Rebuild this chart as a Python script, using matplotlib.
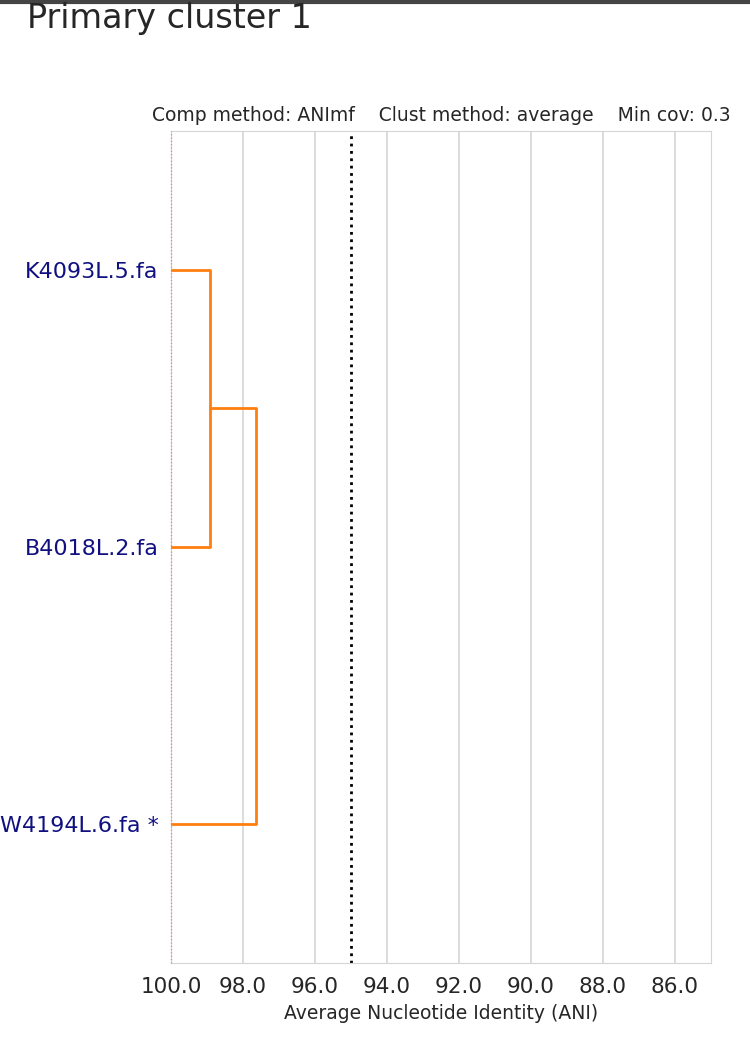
import matplotlib
matplotlib.use("Agg")
import matplotlib.pyplot as plt
import seaborn as sns
from matplotlib.lines import Line2D

# genomes, top to bottom, and where scipy would place them
genomes = ["K4093L.5.fa", "B4018L.2.fa", "W4194L.6.fa *"]
leaf_pos = [25, 15, 5]

# merges: (left y, left ani, right y, right ani, merge ani)
merges = [
    (25, 100.0, 15, 100.0, 98.92),
    (20, 98.92, 5, 100.0, 97.64),
]

ani_ticks = [100, 98, 96, 94, 92, 90, 88, 86]
threshold = 95.0
comp_method = "ANImf"
clust_method = "average"
min_cov = 0.3

sns.set_style("whitegrid")
plt.rcParams['font.family'] = ['DejaVu Sans']

fig = plt.figure(figsize=(7.5, 10.41), dpi=100)
ax = fig.add_axes([0.228, 0.075, 0.72, 0.799])

for y1, x1, y2, x2, xm in merges:
    ax.plot([x1, xm, xm, x2], [y1, y1, y2, y2], color="#ff7f0e", lw=2, zorder=3)

ax.axvline(threshold, color="black", ls=":", lw=2)
ax.axvline(100, color="#f08080", ls=":", lw=0.9, zorder=4, clip_on=False)

ax.set_xlim(100, 85)
ax.set_ylim(0, 30)
ax.set_xticks(ani_ticks)
ax.set_xticklabels(["%.1f" % t for t in ani_ticks], fontsize=15.5, color="#262626")
ax.set_yticks(leaf_pos)
ax.set_yticklabels(genomes, fontsize=16, color="#101080")
ax.tick_params(axis="y", length=0, pad=9)
ax.tick_params(axis="x", length=0, pad=10)
ax.grid(axis="y", visible=False)
ax.grid(axis="x", color="#d5d5d5", lw=1.2)
for s in ax.spines.values():
    s.set_color("#d5d5d5")

ax.set_xlabel("Average Nucleotide Identity (ANI)", fontsize=13.5, color="#262626", labelpad=5)
ax.set_title("Comp method: {0}    Clust method: {1}    Min cov: {2}".format(comp_method, clust_method, min_cov),
             fontsize=13.5, color="#262626", pad=7)

fig.text(0.036, 0.982, "Primary cluster 1", fontsize=24, color="#262626", va="center", ha="left")
fig.add_artist(Line2D([0, 1], [0.9985, 0.9985], transform=fig.transFigure, color="#444444", lw=3))

fig.savefig("out.png", dpi=100)
